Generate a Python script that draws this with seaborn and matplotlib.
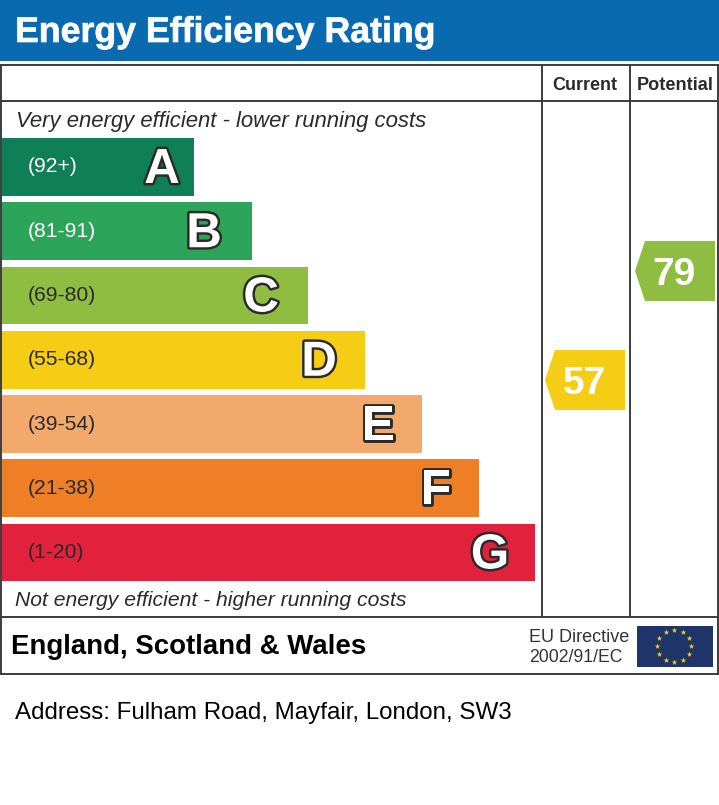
import numpy as np
import matplotlib
matplotlib.use("Agg")
import matplotlib.pyplot as plt
from matplotlib.markers import MarkerStyle
from matplotlib.path import Path
import matplotlib.patheffects as pe
import seaborn as sns

bands = ["A", "B", "C", "D", "E", "F", "G"]
ranges = ["(92+)", "(81-91)", "(69-80)", "(55-68)", "(39-54)", "(21-38)", "(1-20)"]
lengths = [192, 250, 306, 363, 420, 477, 533]
band_colors = ["#0f7f57", "#2ca55a", "#8fbd41", "#f6cd15", "#f3a96b", "#ee7f27", "#e2213c"]
range_colors = ["white", "white", "#2a2a2a", "#2a2a2a", "#2a2a2a", "#2a2a2a", "#2a2a2a"]
letter_x = [162, 204, 261, 319, 378, 436, 490]
columns = ["Current", "Potential"]
ratings = [57, 79]
rating_colors = ["#f6cd15", "#8fbd41"]

W, H = 719, 805
sns.set_theme(style="white")
plt.rcParams["font.family"] = ["Liberation Sans", "DejaVu Sans"]
fig = plt.figure(figsize=(W / 100, H / 100), dpi=100, facecolor="white")

def px_axes(x0, y0, x1, y1, **kw):
    return fig.add_axes([x0 / W, 1 - y1 / H, (x1 - x0) / W, (y1 - y0) / H], **kw)

# Bands
ax = px_axes(2, 134.9, 535, 584.6)
sns.barplot(x=lengths, y=bands, hue=bands, palette=band_colors, width=0.9,
            saturation=1, legend=False, orient="h", linewidth=0, ax=ax)
ax.set_xlim(0, 533)
ax.set_ylim(6.5, -0.5)
ax.axis("off")

# Rating arrows on a rating scale
rx = px_axes(542, 102, 718, 617)
arrow = Path([(-40, 0), (-30, -30), (40, -30), (40, 30), (-30, 30), (-40, 0)], closed=True)
sns.scatterplot(x=columns, y=ratings, hue=columns, palette=rating_colors, legend=False,
                marker=MarkerStyle(arrow), s=(80 * 0.72) ** 2, linewidth=0, ax=rx)
rx.set_xlim(-43 / 90, 133 / 90)
rx.set_ylim(9.17, 113.1)
rx.axis("off")
for c, r in zip(columns, ratings):
    rx.annotate(str(r), (c, r), xytext=(-0.5, 0), textcoords="offset points", color="white",
                fontsize=28, fontweight="bold", ha="center", va="center_baseline")

# Pixel overlay
ov = px_axes(0, 0, W, H)
ov.set_xlim(0, W)
ov.set_ylim(H, 0)
ov.axis("off")
ov.patch.set_alpha(0)
ov.fill_between([0, W], 0, 61, color="#0a6ab0", lw=0)

line = dict(color="#3c3c3c", lw=1.4, solid_capstyle="projecting")
for y in (65, 101, 617, 673.5):
    ov.plot([1, 717.5], [y, y], **line)
ov.plot([1, 1], [65, 673.5], **line)
ov.plot([717.5, 717.5], [65, 673.5], **line)
ov.plot([542, 542], [65, 617], **line)
ov.plot([630, 630], [65, 617], **line)

ov.text(15, 42, "Energy Efficiency Rating", color="white", fontsize=25.7, fontweight="bold",
        va="baseline", path_effects=[pe.withStroke(linewidth=0.6, foreground="#cfe0ee")])
ov.text(585, 90, "Current", color="#2a2a2a", fontsize=13, fontweight="bold", ha="center", va="baseline")
ov.text(675, 90, "Potential", color="#2a2a2a", fontsize=13.1, fontweight="bold", ha="center", va="baseline")
ov.text(16, 127, "Very energy efficient - lower running costs", color="#2a2a2a", fontsize=15.9,
        style="italic", va="baseline")
ov.text(15, 606, "Not energy efficient - higher running costs", color="#2a2a2a", fontsize=15.25,
        style="italic", va="baseline")
for i, (rng, col, lx, b) in enumerate(zip(ranges, range_colors, letter_x, bands)):
    yc = 167 + 64.25 * i
    ov.text(28, yc + 5.5, rng, color=col, fontsize=15.2, va="baseline")
    ov.text(lx, yc + 16, b, color="white", fontsize=35.5, fontweight="bold", ha="center", va="baseline",
            path_effects=[pe.withStroke(linewidth=3.5, foreground="#2a2a2a")])
ov.text(11, 654, "England, Scotland & Wales", color="black", fontsize=19.9, fontweight="bold", va="baseline")
ov.text(529, 642, "EU Directive", color="#333333", fontsize=13, va="baseline")
ov.text(529, 662, "2002/91/EC", color="#333333", fontsize=12.7, va="baseline")
ov.text(15, 719, "Address: Fulham Road, Mayfair, London, SW3", color="black", fontsize=17.4, va="baseline")

# EU flag
ov.fill_between([637, 713], 626, 667, color="#1f3468", lw=0)
angles = np.deg2rad(np.arange(0, 360, 30))
ov.scatter(674 + 17 * np.cos(angles), 646 + 16 * np.sin(angles), marker="*", s=18, color="#f7d117", linewidths=0)

fig.savefig("out.png", dpi=100)
